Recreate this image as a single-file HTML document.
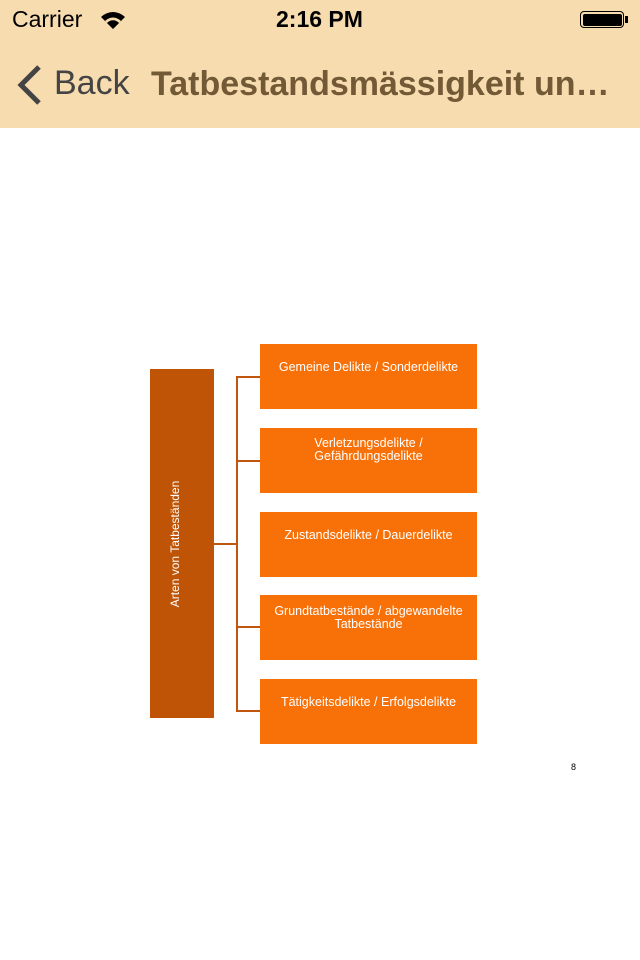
<!DOCTYPE html>
<html><head><meta charset="utf-8"><style>
body{margin:0;width:640px;height:960px;background:#fff;position:relative;overflow:hidden;font-family:"Liberation Sans",sans-serif}
.hdr{position:absolute;left:0;top:0;width:640px;height:128px;background:#f7dcb0}
.a{position:absolute}
.box{position:absolute;left:260px;width:217px;height:65px;background:#f77008;color:#fff;font-size:12.5px;text-align:center;line-height:13px;box-sizing:border-box;padding:17px 6px 0}
.l{position:absolute;background:#c0560e}
</style></head><body>
<div class="hdr"></div>
<div class="a" style="left:12px;top:6px;font-size:23px">Carrier</div>
<svg class="a" style="left:99px;top:9px" width="28" height="22" viewBox="0 0 28 22"><path d="M14 20 L2 8 A17 17 0 0 1 26 8 Z" fill="#000"/><path d="M14 20 L6 12 A11 11 0 0 1 22 12Z" fill="#f7dcb0"/><path d="M14 20 L8 14 A8 8 0 0 1 20 14Z" fill="#000"/></svg>
<div class="a" style="left:276px;top:6px;font-size:23px;font-weight:bold">2:16 PM</div>
<div class="a" style="left:580px;top:11px;width:44px;height:17px;border:1.5px solid #000;border-radius:4px;box-sizing:border-box;padding:1.5px"><div style="background:#000;width:100%;height:100%;border-radius:2px"></div></div>
<div class="a" style="left:625px;top:16px;width:3px;height:7px;background:#000"></div>
<svg class="a" style="left:14px;top:64px" width="30" height="42"><path d="M25 3 L7 21 L25 39" stroke="#444" stroke-width="5" fill="none"/></svg>
<div class="a" style="left:54px;top:64px;font-size:34px;color:#444">Back</div>
<div class="a" style="left:151px;top:65px;font-size:34px;font-weight:bold;color:#735a36;white-space:nowrap">Tatbestandsmässigkeit un…</div>
<div class="a" style="left:150px;top:369px;width:64px;height:349px;background:#bf5406"></div>
<div class="a" style="left:175px;top:544px;transform:translate(-50%,-50%) rotate(-90deg);color:#fff;font-size:12px;white-space:nowrap">Arten von Tatbeständen</div>
<div class="l" style="left:214px;top:543px;width:24px;height:2px"></div>
<div class="l" style="left:236px;top:376px;width:2px;height:336px"></div>
<div class="l" style="left:236px;top:376px;width:24px;height:2px"></div>
<div class="l" style="left:236px;top:460px;width:24px;height:2px"></div>
<div class="l" style="left:236px;top:626px;width:24px;height:2px"></div>
<div class="l" style="left:236px;top:710px;width:24px;height:2px"></div>
<div class="box" style="top:344px">Gemeine Delikte / Sonderdelikte</div>
<div class="box" style="top:428px;padding-top:9px">Verletzungsdelikte /<br>Gefährdungsdelikte</div>
<div class="box" style="top:512px">Zustandsdelikte / Dauerdelikte</div>
<div class="box" style="top:595px;padding-top:10px">Grundtatbestände / abgewandelte Tatbestände</div>
<div class="box" style="top:679px">Tätigkeitsdelikte / Erfolgsdelikte</div>
<div class="a" style="left:571px;top:762px;font-size:9px">8</div>
</body></html>
